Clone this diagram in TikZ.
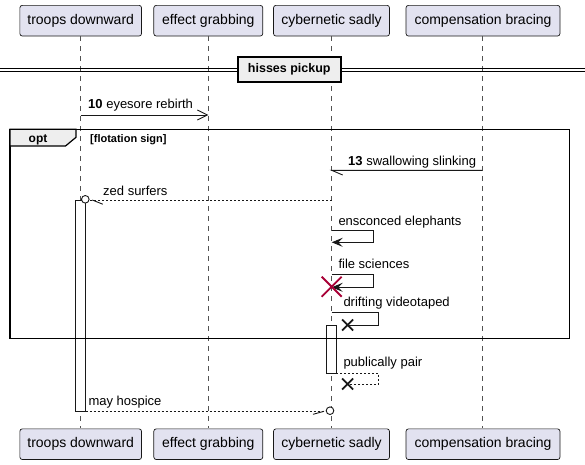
\documentclass[tikz,border=0pt]{standalone}
\usepackage{fontspec}
\setmainfont{Liberation Sans}
\usetikzlibrary{arrows.meta}
\definecolor{partfill}{HTML}{E2E2F0}
\definecolor{partline}{HTML}{181818}
\definecolor{grpfill}{HTML}{EEEEEE}
\definecolor{destroyred}{HTML}{A80036}
\begin{document}
\begin{tikzpicture}[x=1pt,y=-1pt,
  part/.style={draw=partline, fill=partfill, rounded corners=2.5pt, line width=0.7pt,
    minimum height=30.7pt, inner sep=0pt, font=\fontsize{14}{16}\selectfont},
  life/.style={draw=partline!75, line width=0.6pt, dash pattern=on 5pt off 5pt},
  msg/.style={draw=partline, line width=0.9pt},
  reply/.style={msg, dash pattern=on 2pt off 2pt},
  lbl/.style={anchor=base west, inner sep=0pt, font=\fontsize{13}{15}\selectfont},
  act/.style={draw=partline, fill=white, line width=0.9pt},
  xmark/.style={line width=1.8pt, draw=partline},
  openhead/.style={-{Straight Barb[length=10pt,width=10pt]}},
  fillhead/.style={-{Stealth[length=11pt,width=9pt,inset=4.5pt]}},
  circhead/.style={draw=partline, fill=white, line width=0.9pt},
]
\useasboundingbox (0,0) rectangle (585,464);

% participants
\node[part, minimum width=121.7pt] (Atop) at (80.7,20.7) {troops downward};
\node[part, minimum width=109pt]   (Btop) at (208.3,20.7) {effect grabbing};
\node[part, minimum width=116pt]   (Ctop) at (331.5,20.7) {cybernetic sadly};
\node[part, minimum width=154pt]   (Dtop) at (483,20.7) {compensation bracing};
\node[part, minimum width=121.7pt] (Abot) at (80.7,444.2) {troops downward};
\node[part, minimum width=109pt]   (Bbot) at (208.3,444.2) {effect grabbing};
\node[part, minimum width=116pt]   (Cbot) at (331.5,444.2) {cybernetic sadly};
\node[part, minimum width=154pt]   (Dbot) at (483,444.2) {compensation bracing};

% lifelines
\draw[life] (80.7,36) -- (80.7,428.3);
\draw[life] (208.3,36) -- (208.3,428.3);
\draw[life] (331.7,36) -- (331.7,428.3);
\draw[life] (482.3,36) -- (482.3,428.3);

% divider
\draw[line width=0.9pt] (0,68.3) -- (585,68.3);
\draw[line width=0.9pt] (0,71.7) -- (585,71.7);
\node[draw=black, fill=grpfill, line width=1.8pt, minimum width=103.3pt, minimum height=24.4pt,
  inner sep=0pt, font=\bfseries\fontsize{12.5}{14}\selectfont] (div) at (289.3,69.5) {hisses pickup};

% message 10
\coordinate (m10a) at (80.7,115);
\coordinate (m10b) at (208.3,115);
\draw[msg, openhead] (m10a) -- (m10b);
\node[lbl] (t10) at (88,108) {\textbf{10} eyesore rebirth};

% activation bars
\node[act, minimum width=10.2pt, minimum height=211pt, inner sep=0pt] (actA) at (80.6,305.5) {};
\node[act, minimum width=10pt, minimum height=47.3pt, inner sep=0pt] (actC) at (331.3,349.3) {};

% opt frame
\draw[line width=1.5pt] (10,129.3) rectangle (569.5,338.3);
\draw[fill=grpfill, line width=1.2pt] (10,129.3) -- (76,129.3) -- (76,137.3) -- (65.5,146) -- (10,146) -- cycle;
\node[inner sep=0pt, font=\bfseries\fontsize{12}{14}\selectfont, anchor=base] (optl) at (38,142.5) {opt};
\node[inner sep=0pt, font=\bfseries\fontsize{11}{13}\selectfont, anchor=base west] (guard) at (90,142.3) {[flotation sign]};

% message 13
\coordinate (m13a) at (482.3,170.3);
\coordinate (m13b) at (331.7,170.3);
\draw[msg] (m13a) -- (m13b) -- ++(11,4.7);
\node[lbl] (t13) at (348,165) {\textbf{13} swallowing slinking};

% zed surfers
\coordinate (zs) at (331.7,200);
\coordinate (ze) at (89.3,200);
\draw[reply] (zs) -- (ze);
\draw[msg] (92.3,200) -- ++(10.5,4.2);
\draw[circhead] (85.3,199.3) circle (3.8);
\node[lbl] (tz) at (103,195) {zed surfers};

% ensconced elephants
\coordinate (e1) at (331.7,230.7);
\coordinate (e2) at (331.7,242.3);
\draw[msg, fillhead] (e1) -- ++(41.6,0) |- (e2);
\node[lbl] (te) at (338.3,225.5) {ensconced elephants};

% file sciences
\coordinate (f1) at (331.7,274);
\coordinate (f2) at (331.7,287.3);
\draw[msg, fillhead] (f1) -- ++(41.6,0) |- (f2);
\node[lbl] (tf) at (338.3,268) {file sciences};
\draw[destroyred, line width=1.8pt] (321.7,276.7) -- (341.7,296.7) (321.7,296.7) -- (341.7,276.7);

% drifting videotaped
\coordinate (d1) at (331.7,312.3);
\coordinate (d2) at (347.6,325);
\draw[msg] (d1) -- ++(47,0) |- (d2);
\draw[xmark] (342.1,319.5) -- (353.1,330.5) (342.1,330.5) -- (353.1,319.5);
\node[lbl] (td) at (343.3,306.7) {drifting videotaped};

% publically pair
\coordinate (p1) at (336.3,373);
\coordinate (p2) at (347.6,384);
\draw[reply] (p1) -- (378.7,373) |- (p2);
\draw[xmark] (342.1,378.5) -- (353.1,389.5) (342.1,389.5) -- (353.1,378.5);
\node[lbl] (tp) at (343.3,366.7) {publically pair};

% may hospice
\coordinate (h1) at (85.7,411.3);
\coordinate (h2) at (326.2,411.3);
\draw[reply] (h1) -- (h2);
\draw[msg] (324,411.3) -- ++(-11,3);
\draw[circhead] (330,410.7) circle (3.8);
\node[lbl] (th) at (88.3,405.5) {may hospice};
\end{tikzpicture}
\end{document}
